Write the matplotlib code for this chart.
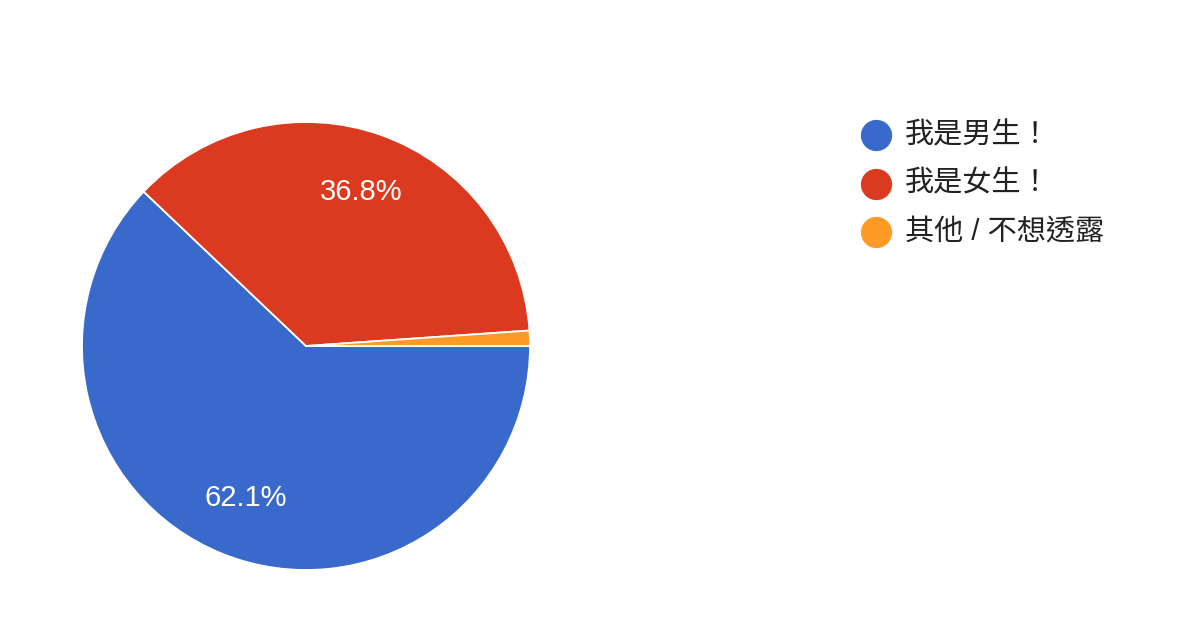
import matplotlib
matplotlib.use("Agg")
import matplotlib.pyplot as plt
from matplotlib.lines import Line2D

plt.rcParams['font.family'] = ['Liberation Sans', 'Noto Sans CJK TC', 'DejaVu Sans']

# data
labels = ['我是男生！', '我是女生！', '其他 / 不想透露']
values = [62.1, 36.8, 1.1]
colors = ['#3869cb', '#db3a20', '#fe9b26']

W, H = 1204, 628
fig = plt.figure(figsize=(W / 100, H / 100), dpi=100)

# pie: center (306, 346), radius 224 px
cx, cy, r = 306, 346, 224
ax = fig.add_axes([(cx - r) / W, (H - cy - r) / H, 2 * r / W, 2 * r / H])


def fmt(p):
    return f'{p:.1f}%' if p > 5 else ''


wedges, texts, autotexts = ax.pie(
    values, colors=colors, startangle=0, counterclock=False,
    autopct=fmt, pctdistance=0.73,
    wedgeprops=dict(edgecolor='white', linewidth=1.3),
    textprops=dict(color='white', fontsize=21))
ax.set_xlim(-1, 1)
ax.set_ylim(-1, 1)
ax.set_aspect('equal')

# legend drawn by hand
for i, (lab, col) in enumerate(zip(labels, colors)):
    y = 1 - (135 + 48.5 * i) / H
    fig.add_artist(Line2D([876 / W], [y], marker='o', markersize=21.5,
                          color=col, linestyle='none',
                          transform=fig.transFigure))
    fig.text(905 / W, y, lab, fontsize=21, color='#222222',
             va='center', ha='left')

fig.savefig('out.png', dpi=100, facecolor='white')
